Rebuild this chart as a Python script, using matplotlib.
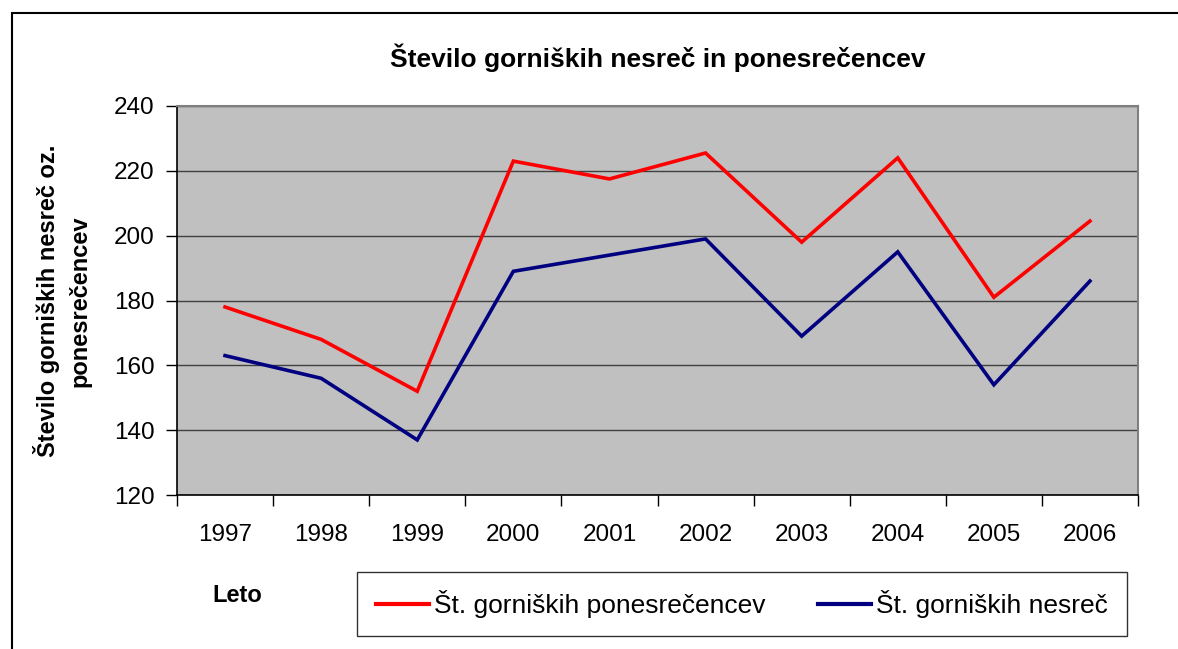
import matplotlib.pyplot as plt
import numpy as np
from matplotlib.lines import Line2D
from matplotlib.patches import Rectangle

plt.rcParams['font.family'] = ['Liberation Sans', 'DejaVu Sans']

years = ['1997', '1998', '1999', '2000', '2001', '2002', '2003', '2004', '2005', '2006']
ponesrecenci = [178, 168, 152, 223, 217.5, 225.5, 198, 224, 181, 204.5]
nesrece = [163, 156, 137, 189, 194, 199, 169, 195, 154, 186]

fig = plt.figure(figsize=(11.78, 6.49), dpi=100)
ax = fig.add_axes([177/1178, 1 - 495/649, (1138 - 177)/1178, (495 - 106)/649])

x = np.arange(len(years))
ax.plot(x, ponesrecenci, color='#ff0000', lw=2.6, solid_joinstyle='miter')
ax.plot(x, nesrece, color='#000080', lw=2.6, solid_joinstyle='miter')

ax.set_facecolor('#c0c0c0')
ax.set_xlim(-0.5, len(years) - 0.5)
ax.set_ylim(120, 240)
ax.set_yticks(np.arange(120, 241, 20))
ax.yaxis.grid(True, color='#404040', lw=1)
ax.set_axisbelow(True)

# kljukice med kategorijami, oznake na sredini
ax.set_xticks(np.arange(-0.5, len(years), 1))
ax.set_xticklabels([])
ax.set_xticks(x, minor=True)
ax.set_xticklabels(years, minor=True)
ax.tick_params(axis='x', which='major', length=8, width=1, color='black', direction='out')
ax.tick_params(axis='x', which='minor', length=0, pad=21, labelsize=17.5)
ax.tick_params(axis='y', length=8, width=1, color='black', direction='out', pad=8, labelsize=17.5)

for s in ['left', 'bottom']:
    ax.spines[s].set_color('black')
    ax.spines[s].set_linewidth(1.2)
for s in ['top', 'right']:
    ax.spines[s].set_color('#808080')
    ax.spines[s].set_linewidth(1.5)

fig.text(658/1178, 1 - 58/649, 'Število gorniških nesreč in ponesrečencev',
         ha='center', va='center', fontsize=19, fontweight='bold')
fig.text(62/1178, 1 - 301/649, 'Število gorniških nesreč oz.\nponesrečencev',
         ha='center', va='center', rotation=90, fontsize=17, fontweight='bold',
         linespacing=1.45)
fig.text(237/1178, 1 - 595/649, 'Leto', ha='center', va='center',
         fontsize=17, fontweight='bold')

# okvir grafikona
fig.add_artist(Rectangle((12/1178, -0.1), 1.2, 1 - 13/649 + 0.1, transform=fig.transFigure,
                         fill=False, edgecolor='black', lw=1.5))

handles = [Line2D([], [], color='#ff0000', lw=3), Line2D([], [], color='#000080', lw=3)]
leg = fig.legend(handles, ['Št. gorniških ponesrečencev', 'Št. gorniških nesreč'],
                 loc='center', bbox_to_anchor=(742/1178, 1 - 604/649), ncol=2,
                 fontsize=19, frameon=True, fancybox=False, edgecolor='black',
                 handlelength=2.0, handletextpad=0.2, columnspacing=2.0,
                 borderpad=0.7, borderaxespad=0)
leg.get_frame().set_linewidth(1)

fig.savefig('out.png', dpi=100)
